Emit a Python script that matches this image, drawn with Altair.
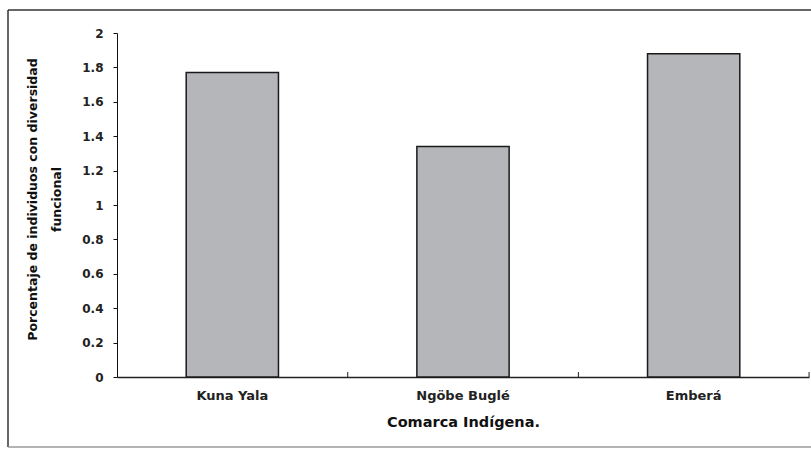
import altair as alt
import pandas as pd

categories = ["Kuna Yala", "Ngöbe Buglé", "Emberá"]
values = [1.77, 1.34, 1.88]
y_ticks = [0, 0.2, 0.4, 0.6, 0.8, 1.0, 1.2, 1.4, 1.6, 1.8, 2.0]

df = pd.DataFrame({"comarca": categories, "valor": values})

FONT = "DejaVu Sans"

x_enc = alt.X(
    "comarca:N",
    sort=categories,
    scale=alt.Scale(paddingInner=0.6, paddingOuter=0.3),
    axis=alt.Axis(
        title="Comarca Indígena.",
        labelAngle=0,
        ticks=False,
        labelPadding=12,
        labelFont=FONT,
        labelFontSize=13,
        labelFontWeight="bold",
        labelColor="#222222",
        titleFont=FONT,
        titleFontSize=14.5,
        titleFontWeight="bold",
        titleColor="#111111",
        titlePadding=13,
        domainColor="#222222",
        domainWidth=1.5,
    ),
)

bars = alt.Chart(df).mark_bar(
    fill="#b4b6ba", stroke="#1a1a1a", strokeWidth=1.5
).encode(
    x=x_enc,
    y=alt.Y(
        "valor:Q",
        scale=alt.Scale(domain=[0, 2], nice=False),
        axis=alt.Axis(
            title=["Porcentaje de individuos con diversidad", "funcional"],
            values=y_ticks,
            format="~g",
            grid=False,
            tickSize=4,
            tickColor="#111111",
            labelPadding=10,
            labelFont=FONT,
            labelFontSize=12,
            labelFontWeight="bold",
            labelColor="#222222",
            domainColor="#111111",
            titleFont=FONT,
            titleFontSize=12.5,
            titleFontWeight="bold",
            titleColor="#111111",
            titleAngle=-90,
            titleLineHeight=24,
            titleX=-91,
            titleY=166,
            titleAlign="center",
            titleBaseline="top",
        ),
    ),
)

# inward tick marks at band boundaries on the x axis
boundary_ticks = alt.Chart(df).mark_rule(
    color="#222222", strokeWidth=1, xOffset=115.4
).encode(
    x=alt.X("comarca:N", sort=categories),
    y=alt.value(339),
    y2=alt.value(344),
)

# outer frame (top, left, bottom edges)
one = pd.DataFrame({"a": [0]})
frame_top = alt.Chart(one).mark_rule(color="#333333", strokeWidth=1.5).encode(
    x=alt.value(-109), x2=alt.value(760), y=alt.value(-23)
)
frame_left = alt.Chart(one).mark_rule(color="#333333", strokeWidth=1.5).encode(
    x=alt.value(-109), y=alt.value(-23), y2=alt.value(414)
)
frame_bottom = alt.Chart(one).mark_rule(color="#9a9a9a", strokeWidth=1.5).encode(
    x=alt.value(-109), x2=alt.value(760), y=alt.value(414)
)

chart = alt.layer(frame_top, frame_left, frame_bottom, bars, boundary_ticks).properties(
    width=692,
    height=344,
    padding={"left": 117, "top": 33, "right": 2, "bottom": 73},
    autosize=alt.AutoSizeParams(type="none"),
    background="white",
).configure_view(stroke=None)

chart.save("out.html", embed_options={"renderer": "svg", "actions": False})
